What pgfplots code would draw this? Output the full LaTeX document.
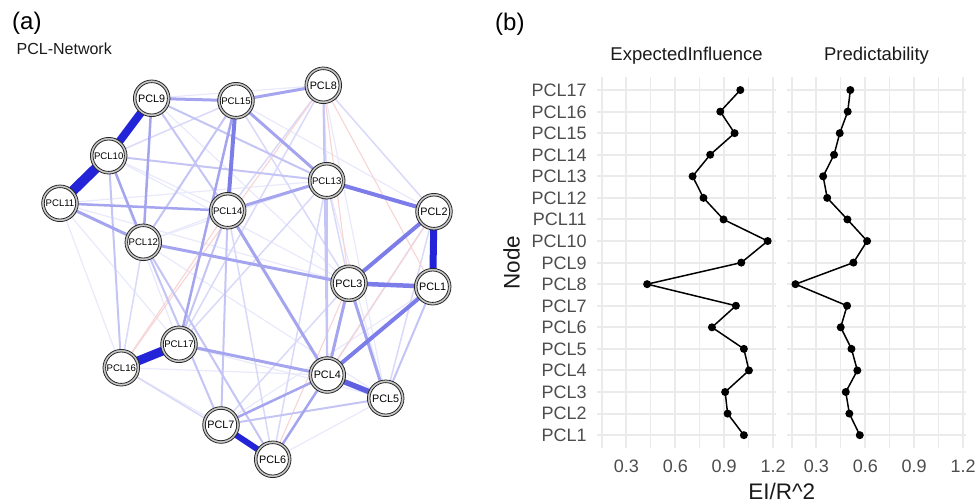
\documentclass[border=0pt]{standalone}
\usepackage{fontspec}
\setmainfont{Liberation Sans}
\usepackage{pgfplots}
\pgfplotsset{compat=1.18}
\usepackage{pgfplotstable}

\definecolor{e1}{RGB}{35,35,215}
\definecolor{e2}{RGB}{125,125,233}
\definecolor{e2b}{RGB}{95,95,226}
\definecolor{e3}{RGB}{165,165,239}
\definecolor{e4}{RGB}{196,196,245}
\definecolor{e5}{RGB}{217,217,249}
\definecolor{e6}{RGB}{233,233,252}
\definecolor{r1}{RGB}{248,212,212}
\definecolor{ringc}{RGB}{200,200,200}
\definecolor{gridc}{RGB}{235,235,235}
\definecolor{tickc}{RGB}{77,77,77}
\definecolor{titc}{RGB}{26,26,26}

% node positions of the network (pixels, y downwards)
\newcommand\setnode[3]{\expandafter\def\csname nx#1\endcsname{#2}\expandafter\def\csname ny#1\endcsname{#3}}
\setnode{1}{432.7}{286.7}
\setnode{2}{434.0}{211.7}
\setnode{3}{349.0}{283.3}
\setnode{4}{327.3}{375.0}
\setnode{5}{385.7}{398.3}
\setnode{6}{272.7}{459.3}
\setnode{7}{221.0}{425.0}
\setnode{8}{323.3}{85.3}
\setnode{9}{151.7}{98.3}
\setnode{10}{108.7}{155.7}
\setnode{11}{60.0}{203.3}
\setnode{12}{143.3}{242.3}
\setnode{13}{326.7}{180.7}
\setnode{14}{227.7}{210.7}
\setnode{15}{236.0}{100.7}
\setnode{16}{121.3}{367.7}
\setnode{17}{179.0}{344.3}
\newcommand\E[4]{\edef\edgetmp{\noexpand\addplot[draw=#3, line width=#4bp, forget plot] coordinates {(\csname nx#1\endcsname,\csname ny#1\endcsname) (\csname nx#2\endcsname,\csname ny#2\endcsname)};}\edgetmp}

\pgfplotstableread{
x y label
432.7 286.7 PCL1
434.0 211.7 PCL2
349.0 283.3 PCL3
327.3 375.0 PCL4
385.7 398.3 PCL5
272.7 459.3 PCL6
221.0 425.0 PCL7
323.3 85.3 PCL8
151.7 98.3 PCL9
}\nodesA
\pgfplotstableread{
x y label
108.7 155.7 PCL10
60.0 203.3 PCL11
143.3 242.3 PCL12
326.7 180.7 PCL13
227.7 210.7 PCL14
236.0 100.7 PCL15
121.3 367.7 PCL16
179.0 344.3 PCL17
}\nodesB

\pgfplotstableread{
node EI Pred
1 1.021 0.566
2 0.921 0.502
3 0.906 0.480
4 1.052 0.551
5 1.021 0.515
6 0.825 0.449
7 0.972 0.488
8 0.427 0.171
9 1.005 0.527
10 1.167 0.611
11 0.896 0.490
12 0.773 0.366
13 0.706 0.341
14 0.814 0.408
15 0.964 0.443
16 0.876 0.492
17 0.999 0.508
}\cent

\pgfplotsset{
  facet/.style={
    scale only axis, width=178.5bp, height=371bp,
    xmin=0.121, xmax=1.217, ymin=0.4, ymax=17.6,
    axis line style={draw=none}, major tick length=0pt, minor tick length=0pt,
    xtick={0.3,0.6,0.9,1.2}, xticklabels={0.3,0.6,0.9,1.2},
    minor xtick={0.15,0.45,0.75,1.05},
    ytick={1,...,17},
    xmajorgrids, ymajorgrids, xminorgrids,
    major grid style={line width=2bp, color=gridc},
    minor grid style={line width=1.2bp, color=gridc},
    xticklabel style={font=\fontsize{18bp}{18bp}\selectfont, text=tickc, anchor=base, inner sep=0pt, yshift=-24.7bp},
    yticklabel style={font=\fontsize{18bp}{18bp}\selectfont, text=tickc, anchor=base east, inner sep=0pt, xshift=-10.5bp, yshift=-6.4bp},
    title style={at={(0.5,1)}, anchor=base, inner sep=0pt, yshift=11.1bp, font=\fontsize{18.5bp}{18.5bp}\selectfont, text=titc},
    clip=false,
  }
}

\begin{document}
\begin{tikzpicture}
\path[use as bounding box] (0,0) rectangle (977bp,-504bp);

% ---------------- (a) network ----------------
\begin{axis}[at={(0,0)}, anchor=north west, scale only axis, width=480bp, height=504bp,
  xmin=0, xmax=480, ymin=0, ymax=504, y dir=reverse, hide axis, clip=false]
% very light edges
\E{11}{16}{e6}{1.2}
\E{16}{7}{e6}{1.2}
\E{16}{4}{e6}{1.2}
\E{6}{5}{e6}{1.2}
\E{11}{13}{e6}{1.2}
\E{10}{14}{e6}{1.2}
\E{9}{8}{e6}{1.2}
\E{9}{3}{e6}{1.2}
\E{6}{12}{e6}{1.2}
\E{12}{14}{e6}{1.2}
\E{12}{13}{e6}{1.2}
\E{10}{17}{e6}{1.2}
\E{11}{17}{e6}{1.2}
\E{12}{5}{e6}{1.2}
\E{15}{2}{e6}{1.2}
\E{1}{7}{e6}{1.2}
\E{17}{5}{e6}{1.2}
\E{10}{3}{e6}{1.2}
\E{13}{5}{e6}{1.2}
\E{11}{3}{e6}{1.2}
\E{8}{5}{e6}{1.2}
% light edges
\E{8}{17}{e5}{1.5}
\E{13}{17}{e5}{1.5}
\E{12}{16}{e5}{1.5}
\E{2}{5}{e5}{1.5}
\E{13}{3}{e5}{1.5}
\E{2}{4}{e5}{1.5}
\E{8}{2}{e5}{1.5}
\E{8}{13}{e5}{1.5}
\E{8}{14}{e5}{1.5}
\E{6}{13}{e5}{1.5}
\E{7}{3}{e5}{1.5}
\E{6}{14}{e5}{1.5}
\E{15}{3}{e5}{1.5}
\E{16}{6}{e5}{1.5}
\E{15}{10}{e5}{1.5}
% red edges
\E{8}{1}{r1}{1.1}
\E{8}{16}{r1}{1.1}
\E{3}{6}{r1}{1.1}
\E{8}{3}{r1}{1.1}
\E{14}{16}{r1}{1.1}
\E{2}{6}{r1}{1.1}
% light-medium edges
\E{9}{14}{e4}{2}
\E{10}{13}{e4}{2}
\E{9}{13}{e4}{2}
\E{12}{7}{e4}{2}
\E{16}{10}{e4}{2}
\E{7}{5}{e4}{2}
\E{13}{4}{e4}{2}
\E{8}{4}{e4}{2}
\E{1}{5}{e4}{2}
\E{14}{7}{e4}{2}
\E{15}{12}{e4}{2}
\E{14}{17}{e4}{2}
\E{12}{6}{e4}{2}
% medium edges
\E{15}{8}{e3}{3}
\E{9}{15}{e3}{3}
\E{3}{5}{e3}{3}
\E{3}{4}{e3}{3}
\E{15}{13}{e3}{3}
\E{14}{13}{e3}{3}
\E{11}{12}{e3}{3}
\E{11}{14}{e3}{2.5}
\E{12}{3}{e3}{3}
\E{17}{4}{e3}{3}
\E{7}{4}{e3}{2.5}
\E{14}{4}{e3}{3}
\E{9}{12}{e3}{2.5}
\E{10}{12}{e3}{2.5}
\E{6}{4}{e3}{2.5}
\E{17}{15}{e3}{2.5}
% medium-strong edges
\E{3}{1}{e2}{4.5}
\E{3}{2}{e2}{4}
\E{4}{1}{e2}{4}
\E{15}{14}{e2}{4}
\E{13}{2}{e2}{4}
\E{4}{5}{e2b}{5.5}
% strong edges
\E{10}{11}{e1}{10}
\E{9}{10}{e1}{8}
\E{16}{17}{e1}{9}
\E{2}{1}{e1}{7}
\E{7}{6}{e1}{6}
% nodes
\addplot[only marks, mark=*, mark size=18.3bp, mark options={fill=ringc, draw=black!85, line width=0.8bp}] table[x=x, y=y] {\nodesA};
\addplot[only marks, mark=*, mark size=18.3bp, mark options={fill=ringc, draw=black!85, line width=0.8bp}] table[x=x, y=y] {\nodesB};
\addplot[only marks, mark=*, mark size=15.7bp, mark options={fill=white, draw=black!85, line width=0.8bp},
  nodes near coords, point meta=explicit symbolic,
  every node near coord/.append style={anchor=center, inner sep=0pt, text=black, font=\fontsize{10.8bp}{10.8bp}\selectfont}]
  table[x=x, y=y, meta=label] {\nodesA};
\addplot[only marks, mark=*, mark size=15.7bp, mark options={fill=white, draw=black!85, line width=0.8bp},
  nodes near coords, point meta=explicit symbolic,
  every node near coord/.append style={anchor=center, inner sep=0pt, text=black, font=\fontsize{9.6bp}{9.6bp}\selectfont}]
  table[x=x, y=y, meta=label] {\nodesB};
\end{axis}

\node[anchor=base west, inner sep=0pt, font=\fontsize{24bp}{24bp}\selectfont] at (12bp,-29.3bp) {(a)};
\node[anchor=base west, inner sep=0pt, font=\fontsize{16bp}{16bp}\selectfont, text=titc] at (16.5bp,-54bp) {PCL-Network};

% ---------------- (b) centrality ----------------
\begin{axis}[facet, at={(597.3bp,-77.1bp)}, anchor=north west,
  title={ExpectedInfluence},
  yticklabels={PCL1,PCL2,PCL3,PCL4,PCL5,PCL6,PCL7,PCL8,PCL9,PCL10,PCL11,PCL12,PCL13,PCL14,PCL15,PCL16,PCL17}]
\addplot[black, line width=1.5bp, mark=*, mark size=3.2bp] table[x=EI, y=node] {\cent};
\end{axis}

\begin{axis}[facet, at={(787.3bp,-77.1bp)}, anchor=north west,
  title={Predictability}, yticklabels={}]
\addplot[black, line width=1.5bp, mark=*, mark size=3.2bp] table[x=Pred, y=node] {\cent};
\end{axis}

\node[anchor=base west, inner sep=0pt, font=\fontsize{24bp}{24bp}\selectfont] at (495bp,-30.5bp) {(b)};
\node[anchor=base, inner sep=0pt, font=\fontsize{22.5bp}{22.5bp}\selectfont, text=titc] at (781.7bp,-499.3bp) {EI/R\textasciicircum 2};
\node[anchor=base, rotate=90, inner sep=0pt, font=\fontsize{22.5bp}{22.5bp}\selectfont, text=titc] at (519.5bp,-262.5bp) {Node};
\end{tikzpicture}
\end{document}
